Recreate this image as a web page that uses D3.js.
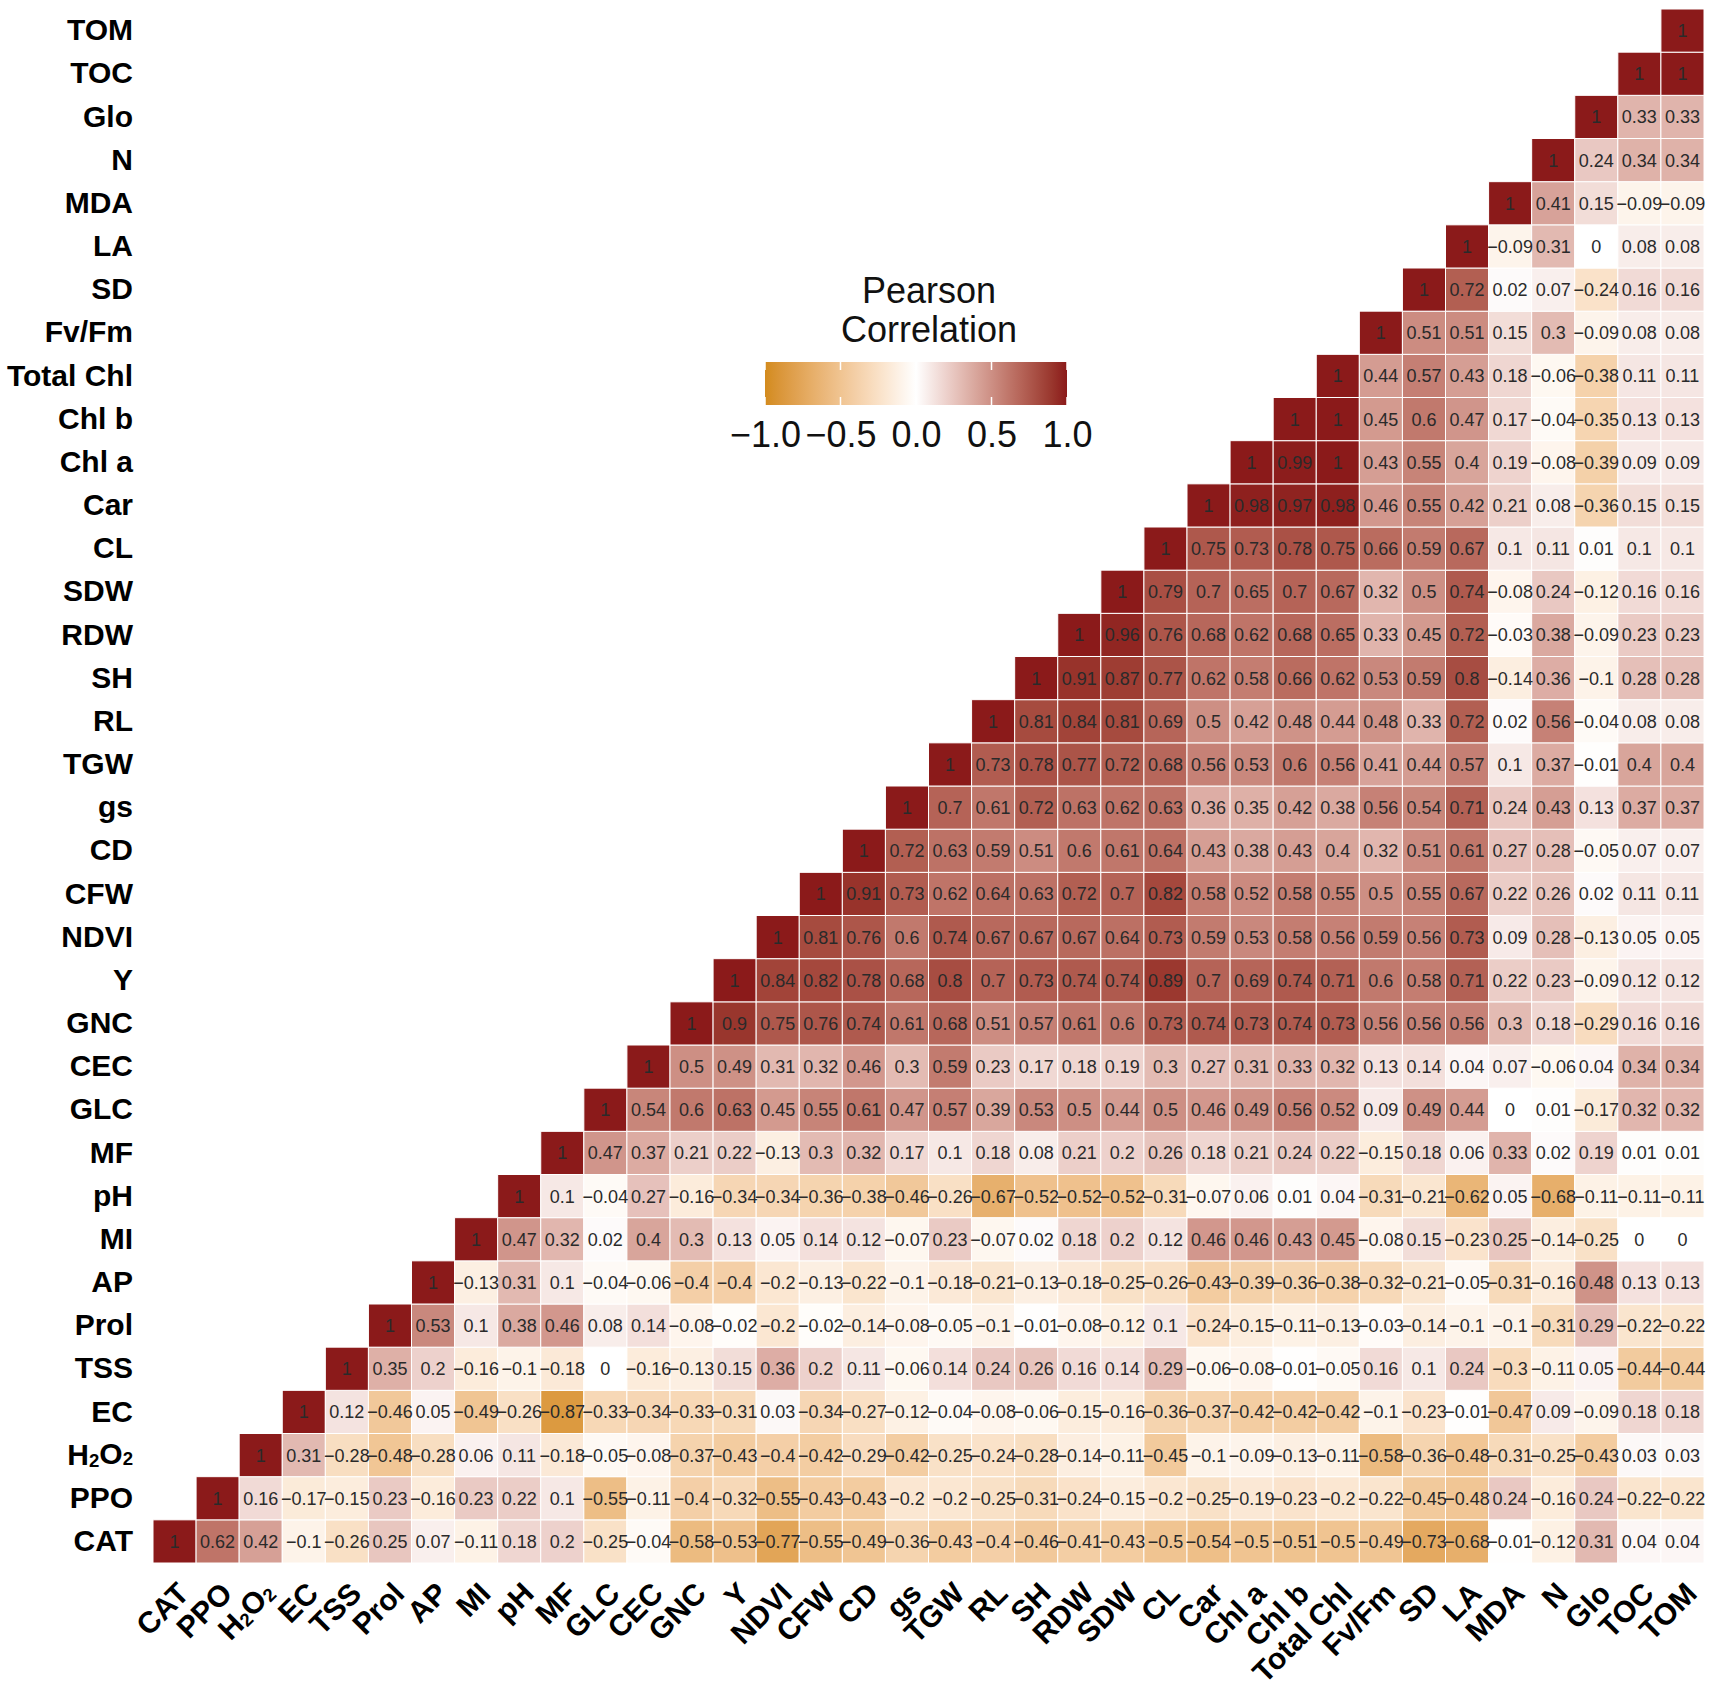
<!DOCTYPE html>
<html>
<head>
<meta charset="utf-8">
<script src="https://cdn.jsdelivr.net/npm/d3@7.9.0/dist/d3.min.js"></script>
<style>
  body { margin: 0; background: #fff; }
  svg { display: block; font-family: "Liberation Sans", Arial, sans-serif; }
</style>
</head>
<body>
<div id="chart"></div>
<script>
// variables, bottom-to-top on y and left-to-right on x
const vars = ['CAT', 'PPO', 'H2O2', 'EC', 'TSS', 'Prol', 'AP', 'MI', 'pH', 'MF', 'GLC', 'CEC',
  'GNC', 'Y', 'NDVI', 'CFW', 'CD', 'gs', 'TGW', 'RL', 'SH', 'RDW', 'SDW', 'CL', 'Car',
  'Chl a', 'Chl b', 'Total Chl', 'Fv/Fm', 'SD', 'LA', 'MDA', 'N', 'Glo', 'TOC', 'TOM'];

// each row starts at the diagonal and runs to the right (TOM)
const rowCAT = [1, 0.62, 0.42, -0.1, -0.26, 0.25, 0.07, -0.11, 0.18, 0.2, -0.25, -0.04, -0.58, -0.53, -0.77, -0.55, -0.49, -0.36, -0.43, -0.4, -0.46, -0.41, -0.43, -0.5, -0.54, -0.5, -0.51, -0.5, -0.49, -0.73, -0.68, -0.01, -0.12, 0.31, 0.04, 0.04];
const rowPPO = [1, 0.16, -0.17, -0.15, 0.23, -0.16, 0.23, 0.22, 0.1, -0.55, -0.11, -0.4, -0.32, -0.55, -0.43, -0.43, -0.2, -0.2, -0.25, -0.31, -0.24, -0.15, -0.2, -0.25, -0.19, -0.23, -0.2, -0.22, -0.45, -0.48, 0.24, -0.16, 0.24, -0.22, -0.22];
const rowH2O2 = [1, 0.31, -0.28, -0.48, -0.28, 0.06, 0.11, -0.18, -0.05, -0.08, -0.37, -0.43, -0.4, -0.42, -0.29, -0.42, -0.25, -0.24, -0.28, -0.14, -0.11, -0.45, -0.1, -0.09, -0.13, -0.11, -0.58, -0.36, -0.48, -0.31, -0.25, -0.43, 0.03, 0.03];
const rowEC = [1, 0.12, -0.46, 0.05, -0.49, -0.26, -0.87, -0.33, -0.34, -0.33, -0.31, 0.03, -0.34, -0.27, -0.12, -0.04, -0.08, -0.06, -0.15, -0.16, -0.36, -0.37, -0.42, -0.42, -0.42, -0.1, -0.23, -0.01, -0.47, 0.09, -0.09, 0.18, 0.18];
const rowTSS = [1, 0.35, 0.2, -0.16, -0.1, -0.18, 0, -0.16, -0.13, 0.15, 0.36, 0.2, 0.11, -0.06, 0.14, 0.24, 0.26, 0.16, 0.14, 0.29, -0.06, -0.08, -0.01, -0.05, 0.16, 0.1, 0.24, -0.3, -0.11, 0.05, -0.44, -0.44];
const rowProl = [1, 0.53, 0.1, 0.38, 0.46, 0.08, 0.14, -0.08, -0.02, -0.2, -0.02, -0.14, -0.08, -0.05, -0.1, -0.01, -0.08, -0.12, 0.1, -0.24, -0.15, -0.11, -0.13, -0.03, -0.14, -0.1, -0.1, -0.31, 0.29, -0.22, -0.22];
const rowAP = [1, -0.13, 0.31, 0.1, -0.04, -0.06, -0.4, -0.4, -0.2, -0.13, -0.22, -0.1, -0.18, -0.21, -0.13, -0.18, -0.25, -0.26, -0.43, -0.39, -0.36, -0.38, -0.32, -0.21, -0.05, -0.31, -0.16, 0.48, 0.13, 0.13];
const rowMI = [1, 0.47, 0.32, 0.02, 0.4, 0.3, 0.13, 0.05, 0.14, 0.12, -0.07, 0.23, -0.07, 0.02, 0.18, 0.2, 0.12, 0.46, 0.46, 0.43, 0.45, -0.08, 0.15, -0.23, 0.25, -0.14, -0.25, 0, 0];
const rowpH = [1, 0.1, -0.04, 0.27, -0.16, -0.34, -0.34, -0.36, -0.38, -0.46, -0.26, -0.67, -0.52, -0.52, -0.52, -0.31, -0.07, 0.06, 0.01, 0.04, -0.31, -0.21, -0.62, 0.05, -0.68, -0.11, -0.11, -0.11];
const rowMF = [1, 0.47, 0.37, 0.21, 0.22, -0.13, 0.3, 0.32, 0.17, 0.1, 0.18, 0.08, 0.21, 0.2, 0.26, 0.18, 0.21, 0.24, 0.22, -0.15, 0.18, 0.06, 0.33, 0.02, 0.19, 0.01, 0.01];
const rowGLC = [1, 0.54, 0.6, 0.63, 0.45, 0.55, 0.61, 0.47, 0.57, 0.39, 0.53, 0.5, 0.44, 0.5, 0.46, 0.49, 0.56, 0.52, 0.09, 0.49, 0.44, 0, 0.01, -0.17, 0.32, 0.32];
const rowCEC = [1, 0.5, 0.49, 0.31, 0.32, 0.46, 0.3, 0.59, 0.23, 0.17, 0.18, 0.19, 0.3, 0.27, 0.31, 0.33, 0.32, 0.13, 0.14, 0.04, 0.07, -0.06, 0.04, 0.34, 0.34];
const rowGNC = [1, 0.9, 0.75, 0.76, 0.74, 0.61, 0.68, 0.51, 0.57, 0.61, 0.6, 0.73, 0.74, 0.73, 0.74, 0.73, 0.56, 0.56, 0.56, 0.3, 0.18, -0.29, 0.16, 0.16];
const rowY = [1, 0.84, 0.82, 0.78, 0.68, 0.8, 0.7, 0.73, 0.74, 0.74, 0.89, 0.7, 0.69, 0.74, 0.71, 0.6, 0.58, 0.71, 0.22, 0.23, -0.09, 0.12, 0.12];
const rowNDVI = [1, 0.81, 0.76, 0.6, 0.74, 0.67, 0.67, 0.67, 0.64, 0.73, 0.59, 0.53, 0.58, 0.56, 0.59, 0.56, 0.73, 0.09, 0.28, -0.13, 0.05, 0.05];
const rowCFW = [1, 0.91, 0.73, 0.62, 0.64, 0.63, 0.72, 0.7, 0.82, 0.58, 0.52, 0.58, 0.55, 0.5, 0.55, 0.67, 0.22, 0.26, 0.02, 0.11, 0.11];
const rowCD = [1, 0.72, 0.63, 0.59, 0.51, 0.6, 0.61, 0.64, 0.43, 0.38, 0.43, 0.4, 0.32, 0.51, 0.61, 0.27, 0.28, -0.05, 0.07, 0.07];
const rowgs = [1, 0.7, 0.61, 0.72, 0.63, 0.62, 0.63, 0.36, 0.35, 0.42, 0.38, 0.56, 0.54, 0.71, 0.24, 0.43, 0.13, 0.37, 0.37];
const rowTGW = [1, 0.73, 0.78, 0.77, 0.72, 0.68, 0.56, 0.53, 0.6, 0.56, 0.41, 0.44, 0.57, 0.1, 0.37, -0.01, 0.4, 0.4];
const rowRL = [1, 0.81, 0.84, 0.81, 0.69, 0.5, 0.42, 0.48, 0.44, 0.48, 0.33, 0.72, 0.02, 0.56, -0.04, 0.08, 0.08];
const rowSH = [1, 0.91, 0.87, 0.77, 0.62, 0.58, 0.66, 0.62, 0.53, 0.59, 0.8, -0.14, 0.36, -0.1, 0.28, 0.28];
const rowRDW = [1, 0.96, 0.76, 0.68, 0.62, 0.68, 0.65, 0.33, 0.45, 0.72, -0.03, 0.38, -0.09, 0.23, 0.23];
const rowSDW = [1, 0.79, 0.7, 0.65, 0.7, 0.67, 0.32, 0.5, 0.74, -0.08, 0.24, -0.12, 0.16, 0.16];
const rowCL = [1, 0.75, 0.73, 0.78, 0.75, 0.66, 0.59, 0.67, 0.1, 0.11, 0.01, 0.1, 0.1];
const rowCar = [1, 0.98, 0.97, 0.98, 0.46, 0.55, 0.42, 0.21, 0.08, -0.36, 0.15, 0.15];
const rowChla = [1, 0.99, 1, 0.43, 0.55, 0.4, 0.19, -0.08, -0.39, 0.09, 0.09];
const rowChlb = [1, 1, 0.45, 0.6, 0.47, 0.17, -0.04, -0.35, 0.13, 0.13];
const rowTotalChl = [1, 0.44, 0.57, 0.43, 0.18, -0.06, -0.38, 0.11, 0.11];
const rowFvFm = [1, 0.51, 0.51, 0.15, 0.3, -0.09, 0.08, 0.08];
const rowSD = [1, 0.72, 0.02, 0.07, -0.24, 0.16, 0.16];
const rowLA = [1, -0.09, 0.31, 0, 0.08, 0.08];
const rowMDA = [1, 0.41, 0.15, -0.09, -0.09];
const rowN = [1, 0.24, 0.34, 0.34];
const rowGlo = [1, 0.33, 0.33];
const rowTOC = [1, 1];
const rowTOM = [1];

const corrRows = [rowCAT, rowPPO, rowH2O2, rowEC, rowTSS, rowProl, rowAP, rowMI, rowpH, rowMF,
  rowGLC, rowCEC, rowGNC, rowY, rowNDVI, rowCFW, rowCD, rowgs, rowTGW, rowRL, rowSH, rowRDW,
  rowSDW, rowCL, rowCar, rowChla, rowChlb, rowTotalChl, rowFvFm, rowSD, rowLA, rowMDA, rowN,
  rowGlo, rowTOC, rowTOM];

const legendTicks = [-1, -0.5, 0, 0.5, 1];

const width = 1712;
const height = 1688;
const grid = { left: 153, right: 1704, top: 9, bottom: 1563 };

const cells = [];
corrRows.forEach((row, i) => {
  row.forEach((v, k) => cells.push({ x: vars[i + k], y: vars[i], value: v }));
});

const color = d3.scaleLinear()
  .domain([-1, 0, 1])
  .range(['#d38b1e', '#ffffff', '#8b1a1a'])
  .interpolate(d3.interpolateLab);

const x = d3.scaleBand().domain(vars).range([grid.left, grid.right]);
const y = d3.scaleBand().domain(vars).range([grid.bottom, grid.top]);

const svg = d3.select('#chart')
  .append('svg')
  .attr('width', width)
  .attr('height', height)
  .attr('viewBox', `0 0 ${width} ${height}`);

svg.append('rect').attr('width', width).attr('height', height).attr('fill', '#fff');

// tiles
svg.append('g')
  .selectAll('rect')
  .data(cells)
  .join('rect')
  .attr('x', d => x(d.x))
  .attr('y', d => y(d.y))
  .attr('width', x.bandwidth())
  .attr('height', y.bandwidth())
  .attr('fill', d => color(d.value))
  .attr('stroke', '#fff')
  .attr('stroke-width', 1);

// numbers
svg.append('g')
  .selectAll('text')
  .data(cells)
  .join('text')
  .attr('x', d => x(d.x) + x.bandwidth() / 2)
  .attr('y', d => y(d.y) + y.bandwidth() / 2)
  .attr('dy', '0.36em')
  .attr('text-anchor', 'middle')
  .attr('font-size', 18)
  .attr('fill', '#2a2a2a')
  .text(d => String(d.value).replace('-', '\u2212'));

// subscript helper for H2O2
function labelText(sel) {
  sel.each(function (d) {
    const t = d3.select(this);
    if (d !== 'H2O2') return;
    t.text(null);
    ['H', '2', 'O', '2'].forEach(part => {
      const ts = t.append('tspan').text(part);
      if (part === '2') ts.attr('font-size', '0.62em').attr('dy', '0.1em');
      else ts.attr('dy', '-0.1em');
    });
    t.select('tspan').attr('dy', null);
  });
}

// y axis
const yAxis = svg.append('g')
  .attr('transform', `translate(${grid.left},0)`)
  .call(d3.axisLeft(y).tickSize(0).tickPadding(20));
yAxis.select('.domain').remove();
yAxis.selectAll('text')
  .attr('font-size', 30)
  .attr('font-weight', 'bold')
  .attr('font-family', '"Liberation Sans", Arial, sans-serif')
  .attr('fill', '#000')
  .call(labelText);

// x axis
const xAxis = svg.append('g')
  .attr('transform', `translate(0,${grid.bottom})`)
  .call(d3.axisBottom(x).tickSize(0).tickPadding(0));
xAxis.select('.domain').remove();
xAxis.selectAll('text')
  .attr('font-size', 30)
  .attr('font-weight', 'bold')
  .attr('font-family', '"Liberation Sans", Arial, sans-serif')
  .attr('fill', '#000')
  .attr('text-anchor', 'end')
  .attr('y', 0)
  .attr('dy', '0.72em')
  .attr('transform', 'translate(1,17) rotate(-45)')
  .call(labelText);

// legend
const legend = { left: 765, right: 1067, top: 362, bottom: 405 };
const lx = d3.scaleLinear().domain([-1, 1]).range([legend.left, legend.right]);

const grad = svg.append('defs').append('linearGradient').attr('id', 'corr-grad');
grad.selectAll('stop')
  .data(d3.range(0, 1.0001, 0.05))
  .join('stop')
  .attr('offset', d => d)
  .attr('stop-color', d => color(d * 2 - 1));

svg.append('rect')
  .attr('x', legend.left)
  .attr('y', legend.top)
  .attr('width', legend.right - legend.left)
  .attr('height', legend.bottom - legend.top)
  .attr('fill', 'url(#corr-grad)');

// white tick marks on the colour bar
const tickLen = 8;
svg.append('g')
  .selectAll('path')
  .data(legendTicks)
  .join('path')
  .attr('d', d => `M${lx(d)},${legend.top}v${tickLen}M${lx(d)},${legend.bottom}v${-tickLen}`)
  .attr('stroke', '#fff')
  .attr('stroke-width', 1.5);

const legAxis = svg.append('g')
  .attr('transform', `translate(0,${legend.bottom})`)
  .call(d3.axisBottom(lx).tickValues(legendTicks).tickFormat(d3.format('.1f')).tickSize(0).tickPadding(16));
legAxis.select('.domain').remove();
legAxis.selectAll('text')
  .attr('font-size', 36)
  .attr('font-family', '"Liberation Sans", Arial, sans-serif')
  .attr('fill', '#111');

const titleX = 929;
svg.append('text')
  .attr('x', titleX)
  .attr('y', 303)
  .attr('text-anchor', 'middle')
  .attr('font-size', 36)
  .attr('fill', '#111')
  .selectAll('tspan')
  .data(['Pearson', 'Correlation'])
  .join('tspan')
  .attr('x', titleX)
  .attr('dy', (d, i) => i ? 39 : 0)
  .text(d => d);
</script>
</body>
</html>
